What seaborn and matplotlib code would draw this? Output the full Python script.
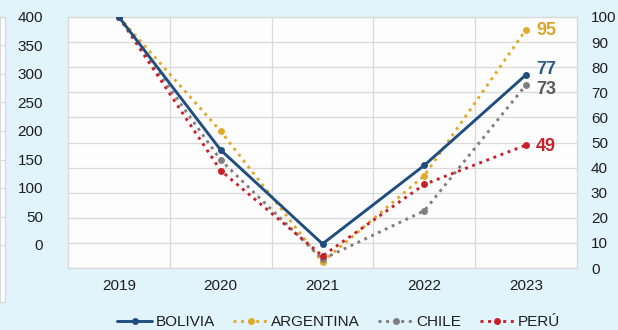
import numpy as np
import pandas as pd
import matplotlib
matplotlib.use("Agg")
import matplotlib.pyplot as plt
from matplotlib.lines import Line2D
import seaborn as sns

years = ["2019", "2020", "2021", "2022", "2023"]
bolivia = [100, 47, 9.6, 40.9, 77]
argentina = [100, 54.5, 2.4, 36.8, 95]
chile = [100, 43, 3.5, 22.8, 73]
peru = [100, 38.8, 4.8, 33.3, 49]

series_names = ["BOLIVIA", "ARGENTINA", "CHILE", "PERÚ"]
series_values = [bolivia, argentina, chile, peru]
left_ticks = [0, 50, 100, 150, 200, 250, 300, 350, 400]
right_ticks = [0, 10, 20, 30, 40, 50, 60, 70, 80, 90, 100]

colors = {"BOLIVIA": "#1f4e7f", "ARGENTINA": "#e0aa2c", "CHILE": "#7f7f7f", "PERÚ": "#c8202a"}
label_colors = {"BOLIVIA": "#2a5d8a", "ARGENTINA": "#d9a52b", "CHILE": "#595959", "PERÚ": "#c8202a"}
dashes = {"BOLIVIA": "", "ARGENTINA": (1, 1.6), "CHILE": (1, 1.6), "PERÚ": (1, 1.6)}
label_offsets = {"BOLIVIA": (10, 5), "ARGENTINA": (10, -1), "CHILE": (10, -5), "PERÚ": (10, -1)}

rows = []
for name, vals in zip(series_names, series_values):
    for i, v in enumerate(vals):
        rows.append({"pais": name, "x": i, "valor": v})
df = pd.DataFrame(rows)

sns.set_theme(style="white")
plt.rcParams["font.family"] = ["Liberation Sans", "DejaVu Sans"]

bg = "#e1f3fb"
grid_c = "#d9d9d9"
text_c = "#1f1f1f"
fs = 11

fig = plt.figure(figsize=(6.18, 3.30), dpi=100, facecolor=bg)

# sliver of the neighbouring panel on the far left
side = fig.add_axes([0, (330 - 302) / 330, 4.5 / 618, (302 - 17) / 330])
side.set_facecolor("white")
side.set_ylim(-100, 400)
side.set_yticks(left_ticks)
side.set_xticks([])
side.tick_params(left=False, labelleft=False)
side.grid(axis="y", color=grid_c, lw=0.9)
for s in side.spines.values():
    s.set_color(grid_c)
    s.set_linewidth(0.9)

ax = fig.add_axes([68 / 618, (330 - 268) / 330, (577 - 68) / 618, (268 - 17) / 330])
ax.set_facecolor("#fdfdfd")
ax.set_ylim(-40.4, 400)
ax.set_yticks(left_ticks)
ax.set_yticklabels([str(t) for t in left_ticks], fontsize=fs, color=text_c)
ax.tick_params(axis="y", length=0, pad=18)
ax.set_xlim(-0.5, len(years) - 0.5)
ax.set_xticks(range(len(years)))
ax.set_xticklabels(years, fontsize=fs, color=text_c)
ax.set_xticks(np.arange(0.5, len(years) - 0.5, 1), minor=True)
ax.tick_params(axis="x", which="both", length=0, pad=8)
ax.grid(axis="x", which="minor", color=grid_c, lw=0.9)
ax.grid(axis="x", which="major", visible=False)
ax.grid(axis="y", visible=False)
for s in ax.spines.values():
    s.set_color(grid_c)
    s.set_linewidth(0.9)

ax2 = ax.twinx()
ax2.set_ylim(0, 100)
ax2.set_yticks(right_ticks)
ax2.set_yticklabels([str(t) for t in right_ticks], fontsize=fs, color=text_c)
ax2.tick_params(axis="y", length=0, pad=10)
ax2.grid(axis="y", color=grid_c, lw=0.9)
ax2.set_axisbelow(True)
for s in ax2.spines.values():
    s.set_visible(False)

sns.lineplot(data=df, x="x", y="valor", hue="pais", style="pais",
             hue_order=series_names, style_order=series_names,
             palette=colors, dashes=dashes, markers={n: "o" for n in series_names},
             markersize=5, markeredgewidth=0, linewidth=2.1,
             ax=ax2, legend=False, zorder=3)
# keep the solid line above the dotted ones
for line in ax2.get_lines():
    if line.get_color() == colors["BOLIVIA"]:
        line.set_zorder(5)

last = len(years) - 1
for name, vals in zip(series_names, series_values):
    dx, dy = label_offsets[name]
    ax2.annotate(f"{vals[last]:.0f}", xy=(last, vals[last]), xytext=(dx, dy),
                 textcoords="offset pixels", ha="left", va="center",
                 fontsize=13, fontweight="bold", color=label_colors[name])

ax2.set_xlabel("")
ax2.set_ylabel("")
ax.set_xlabel("")
ax.set_ylabel("")

handles = [Line2D([], [], color=colors[n], lw=2.1,
                  linestyle="-" if dashes[n] == "" else (0, dashes[n]),
                  marker="o", markersize=5, markeredgewidth=0) for n in series_names]
fig.legend(handles, series_names, loc="center", bbox_to_anchor=(0.548, 1 - 322 / 330),
           ncol=4, frameon=False, fontsize=fs, handlelength=2.3,
           handletextpad=0.2, columnspacing=1.2, labelcolor=text_c)

fig.savefig("out.png", dpi=100, facecolor=bg)
